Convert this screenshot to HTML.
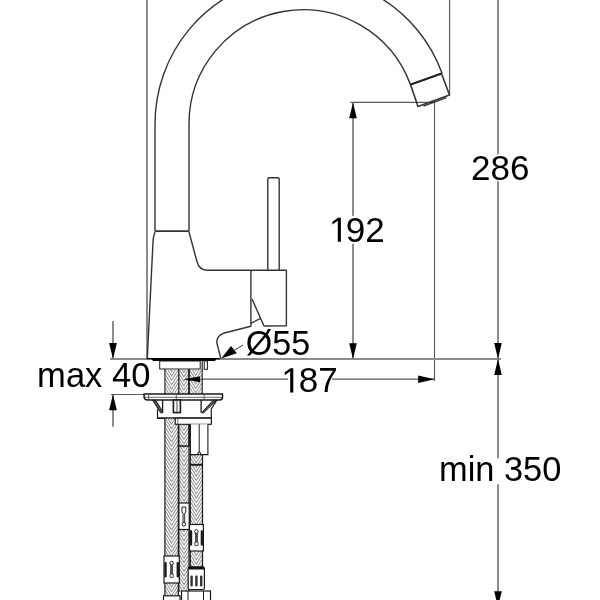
<!DOCTYPE html>
<html><head><meta charset="utf-8">
<style>
html,body{margin:0;padding:0;background:#fff;width:600px;height:600px;overflow:hidden}
svg{display:block;will-change:transform}
text{font-family:"Liberation Sans",sans-serif;fill:#000}
</style></head><body>
<svg width="600" height="600" viewBox="0 0 600 600">
<rect width="600" height="600" fill="#fff"/>
<line x1="147.0" y1="0" x2="147.0" y2="358" stroke="#8c8c8c" stroke-width="2" fill="none"/>
<line x1="449.6" y1="0" x2="449.6" y2="95" stroke="#5a5a5a" stroke-width="1.15" fill="none"/>
<line x1="498.0" y1="0" x2="498.0" y2="600" stroke="#8c8c8c" stroke-width="2" fill="none"/>
<line x1="350.4" y1="102.4" x2="434.5" y2="102.4" stroke="#5a5a5a" stroke-width="1.15" fill="none"/>
<line x1="353.0" y1="102.5" x2="353.0" y2="359" stroke="#8c8c8c" stroke-width="2" fill="none"/>
<line x1="434.5" y1="101" x2="434.5" y2="381" stroke="#5a5a5a" stroke-width="1.15" fill="none"/>
<line x1="185" y1="379.2" x2="434.4" y2="379.2" stroke="#5a5a5a" stroke-width="1.3" fill="none"/>
<line x1="113.0" y1="321" x2="113.0" y2="359" stroke="#8c8c8c" stroke-width="2" fill="none"/>
<line x1="113.0" y1="394.5" x2="113.0" y2="426.7" stroke="#8c8c8c" stroke-width="2" fill="none"/>
<line x1="111" y1="394.5" x2="145" y2="394.5" stroke="#5a5a5a" stroke-width="1.15" fill="none"/>
<line x1="110" y1="359.0" x2="501" y2="359.0" stroke="#8c8c8c" stroke-width="2" fill="none"/>
<g fill="#fff">
<rect x="470" y="154.3" width="62" height="27"/>
<rect x="328" y="215.8" width="58" height="28"/>
<rect x="288" y="366" width="44" height="28"/>
<rect x="438" y="458.3" width="127" height="26"/>
<rect x="36" y="360" width="115" height="29"/>
</g>
<g stroke="#333" stroke-width="1.4" fill="none" stroke-linejoin="round">
<path d="M155 231.2 L155 124 A148 148 0 0 1 442.06 73.3"/>
<path d="M189 231.2 L189 124 A114.2 114.2 0 0 1 410.4 84.6"/>
<path d="M441.5 73.5 L449.5 95 L418 106.5 L410.5 84.5 Z" stroke-width="1.6"/>
<path d="M423.5 106.1 L446.5 97.7" stroke-width="1.3"/>
<path d="M441.6 73.5 L410.5 84.6" stroke-width="2" stroke="#222"/>
<line x1="155" y1="231.2" x2="189" y2="231.2" stroke-width="1.8"/>
<path d="M155 232 C153.4 236 153 239 153 242 L147.3 358.5"/>
<path d="M189 232 L196.8 261 C198.5 267.8 201.5 270.2 207 270.2 L286.4 270.2 L286.4 325.8 L264 326 L252 299"/>
<path d="M250.9 270.2 L250.9 326.3 L223.5 333.3 C219 334.8 216.6 338 216.9 343 L220.8 358.3"/>
<path d="M250.8 323.4 Q255.5 321 260.2 318.7"/>
<path d="M267.8 270.2 L267.8 179 Q267.8 177.8 269 177.8 L278 177.8 Q279.2 177.8 279.2 179 L279.2 270.2"/>
</g>
<line x1="147" y1="358.7" x2="220" y2="358.7" stroke="#000" stroke-width="1.3"/>
<path d="M151.5 359 L216.5 359 L215 361 L153 361Z" fill="#000"/>
<rect x="159.7" y="361" width="40.5" height="8" fill="#fff" stroke="#1a1a1a" stroke-width="1"/>
<rect x="204.2" y="361" width="3.2" height="8.3" fill="#fff" stroke="#1a1a1a" stroke-width="1"/>
<clipPath id="c36"><rect x="164.90" y="369.00" width="13.40" height="24.50"/></clipPath>
<path clip-path="url(#c36)" d="M164.90 352.00 L171.60 362.72 L178.30 352.00 M164.90 356.40 L171.60 367.12 L178.30 356.40 M164.90 360.80 L171.60 371.52 L178.30 360.80 M164.90 365.20 L171.60 375.92 L178.30 365.20 M164.90 369.60 L171.60 380.32 L178.30 369.60 M164.90 374.00 L171.60 384.72 L178.30 374.00 M164.90 378.40 L171.60 389.12 L178.30 378.40 M164.90 382.80 L171.60 393.52 L178.30 382.80 M164.90 387.20 L171.60 397.92 L178.30 387.20 M164.90 391.60 L171.60 402.32 L178.30 391.60 M164.90 396.00 L171.60 406.72 L178.30 396.00 M164.90 400.40 L171.60 411.12 L178.30 400.40" stroke="#999" stroke-width="1.10" fill="none"/>
<clipPath id="c38"><rect x="179.30" y="369.00" width="9.10" height="24.50"/></clipPath>
<path clip-path="url(#c38)" d="M179.30 356.40 L183.85 363.68 L188.40 356.40 M179.30 360.80 L183.85 368.08 L188.40 360.80 M179.30 365.20 L183.85 372.48 L188.40 365.20 M179.30 369.60 L183.85 376.88 L188.40 369.60 M179.30 374.00 L183.85 381.28 L188.40 374.00 M179.30 378.40 L183.85 385.68 L188.40 378.40 M179.30 382.80 L183.85 390.08 L188.40 382.80 M179.30 387.20 L183.85 394.48 L188.40 387.20 M179.30 391.60 L183.85 398.88 L188.40 391.60 M179.30 396.00 L183.85 403.28 L188.40 396.00 M179.30 400.40 L183.85 407.68 L188.40 400.40" stroke="#999" stroke-width="1.10" fill="none"/>
<clipPath id="c40"><rect x="189.50" y="369.00" width="12.50" height="24.50"/></clipPath>
<path clip-path="url(#c40)" d="M189.50 352.00 L195.75 362.00 L202.00 352.00 M189.50 356.40 L195.75 366.40 L202.00 356.40 M189.50 360.80 L195.75 370.80 L202.00 360.80 M189.50 365.20 L195.75 375.20 L202.00 365.20 M189.50 369.60 L195.75 379.60 L202.00 369.60 M189.50 374.00 L195.75 384.00 L202.00 374.00 M189.50 378.40 L195.75 388.40 L202.00 378.40 M189.50 382.80 L195.75 392.80 L202.00 382.80 M189.50 387.20 L195.75 397.20 L202.00 387.20 M189.50 391.60 L195.75 401.60 L202.00 391.60 M189.50 396.00 L195.75 406.00 L202.00 396.00 M189.50 400.40 L195.75 410.40 L202.00 400.40" stroke="#999" stroke-width="1.10" fill="none"/>
<g stroke="#1a1a1a" fill="none">
<line x1="164.9" y1="369" x2="164.9" y2="394" stroke-width="1.1"/>
<line x1="178.8" y1="369" x2="178.8" y2="394" stroke-width="1.3"/>
<line x1="189" y1="369" x2="189" y2="394" stroke-width="1.8"/>
<line x1="202.2" y1="361" x2="202.2" y2="394" stroke-width="1.1"/>
</g>
<path d="M144.1 394 L222.5 394 L222.5 397.5 Q222.5 400 219.5 400 L148 400 Q144.1 400 144.1 397 Z" fill="#fff" stroke="#1a1a1a" stroke-width="1.5"/>
<g stroke="#444" stroke-width="0.8" fill="none">
<line x1="145" y1="397.3" x2="222" y2="397.3"/>
<line x1="148.6" y1="394" x2="148.6" y2="400"/>
<line x1="176.3" y1="394" x2="176.3" y2="400"/>
<line x1="204.1" y1="394" x2="204.1" y2="400"/>
</g>
<g stroke="#1a1a1a" fill="none">
<path d="M152.6 400.2 L155.6 400.2 L162.6 411.5 L162.6 412.8 L160.6 412.8 Z" fill="#555" stroke-width="1"/>
<line x1="162.6" y1="400" x2="162.6" y2="412.7" stroke-width="1.3"/>
<rect x="173.4" y="400" width="7" height="12.6" stroke-width="1.6" fill="#fff"/>
<line x1="177" y1="401" x2="177" y2="412" stroke-width="0.8"/>
<line x1="201.1" y1="400" x2="201.1" y2="412.7" stroke-width="1.3"/>
<path d="M201.6 412.8 L203.6 412.8 L216.5 400.2 L213.2 400.2 Z" fill="#555" stroke-width="1"/>
<path d="M217 400 L211.3 409 L211.3 424.2" stroke-width="1.2"/>
<line x1="157.5" y1="409.3" x2="157.5" y2="418.6" stroke-width="1.2"/>
<line x1="157" y1="418.2" x2="211.8" y2="418.2" stroke-width="1.8"/>
</g>
<clipPath id="c66"><rect x="164.90" y="418.00" width="13.30" height="138.00"/></clipPath>
<path clip-path="url(#c66)" d="M164.90 400.40 L171.55 411.04 L178.20 400.40 M164.90 404.80 L171.55 415.44 L178.20 404.80 M164.90 409.20 L171.55 419.84 L178.20 409.20 M164.90 413.60 L171.55 424.24 L178.20 413.60 M164.90 418.00 L171.55 428.64 L178.20 418.00 M164.90 422.40 L171.55 433.04 L178.20 422.40 M164.90 426.80 L171.55 437.44 L178.20 426.80 M164.90 431.20 L171.55 441.84 L178.20 431.20 M164.90 435.60 L171.55 446.24 L178.20 435.60 M164.90 440.00 L171.55 450.64 L178.20 440.00 M164.90 444.40 L171.55 455.04 L178.20 444.40 M164.90 448.80 L171.55 459.44 L178.20 448.80 M164.90 453.20 L171.55 463.84 L178.20 453.20 M164.90 457.60 L171.55 468.24 L178.20 457.60 M164.90 462.00 L171.55 472.64 L178.20 462.00 M164.90 466.40 L171.55 477.04 L178.20 466.40 M164.90 470.80 L171.55 481.44 L178.20 470.80 M164.90 475.20 L171.55 485.84 L178.20 475.20 M164.90 479.60 L171.55 490.24 L178.20 479.60 M164.90 484.00 L171.55 494.64 L178.20 484.00 M164.90 488.40 L171.55 499.04 L178.20 488.40 M164.90 492.80 L171.55 503.44 L178.20 492.80 M164.90 497.20 L171.55 507.84 L178.20 497.20 M164.90 501.60 L171.55 512.24 L178.20 501.60 M164.90 506.00 L171.55 516.64 L178.20 506.00 M164.90 510.40 L171.55 521.04 L178.20 510.40 M164.90 514.80 L171.55 525.44 L178.20 514.80 M164.90 519.20 L171.55 529.84 L178.20 519.20 M164.90 523.60 L171.55 534.24 L178.20 523.60 M164.90 528.00 L171.55 538.64 L178.20 528.00 M164.90 532.40 L171.55 543.04 L178.20 532.40 M164.90 536.80 L171.55 547.44 L178.20 536.80 M164.90 541.20 L171.55 551.84 L178.20 541.20 M164.90 545.60 L171.55 556.24 L178.20 545.60 M164.90 550.00 L171.55 560.64 L178.20 550.00 M164.90 554.40 L171.55 565.04 L178.20 554.40 M164.90 558.80 L171.55 569.44 L178.20 558.80 M164.90 563.20 L171.55 573.84 L178.20 563.20" stroke="#999" stroke-width="1.10" fill="none"/>
<clipPath id="c68"><rect x="164.90" y="583.00" width="13.30" height="13.00"/></clipPath>
<path clip-path="url(#c68)" d="M164.90 567.60 L171.55 578.24 L178.20 567.60 M164.90 572.00 L171.55 582.64 L178.20 572.00 M164.90 576.40 L171.55 587.04 L178.20 576.40 M164.90 580.80 L171.55 591.44 L178.20 580.80 M164.90 585.20 L171.55 595.84 L178.20 585.20 M164.90 589.60 L171.55 600.24 L178.20 589.60 M164.90 594.00 L171.55 604.64 L178.20 594.00 M164.90 598.40 L171.55 609.04 L178.20 598.40 M164.90 602.80 L171.55 613.44 L178.20 602.80" stroke="#999" stroke-width="1.10" fill="none"/>
<clipPath id="c70"><rect x="178.90" y="424.30" width="10.10" height="21.70"/></clipPath>
<path clip-path="url(#c70)" d="M178.90 409.20 L183.95 417.28 L189.00 409.20 M178.90 413.60 L183.95 421.68 L189.00 413.60 M178.90 418.00 L183.95 426.08 L189.00 418.00 M178.90 422.40 L183.95 430.48 L189.00 422.40 M178.90 426.80 L183.95 434.88 L189.00 426.80 M178.90 431.20 L183.95 439.28 L189.00 431.20 M178.90 435.60 L183.95 443.68 L189.00 435.60 M178.90 440.00 L183.95 448.08 L189.00 440.00 M178.90 444.40 L183.95 452.48 L189.00 444.40 M178.90 448.80 L183.95 456.88 L189.00 448.80 M178.90 453.20 L183.95 461.28 L189.00 453.20" stroke="#999" stroke-width="1.10" fill="none"/>
<clipPath id="c72"><rect x="178.90" y="446.00" width="10.30" height="57.00"/></clipPath>
<path clip-path="url(#c72)" d="M178.90 431.20 L184.05 439.44 L189.20 431.20 M178.90 435.60 L184.05 443.84 L189.20 435.60 M178.90 440.00 L184.05 448.24 L189.20 440.00 M178.90 444.40 L184.05 452.64 L189.20 444.40 M178.90 448.80 L184.05 457.04 L189.20 448.80 M178.90 453.20 L184.05 461.44 L189.20 453.20 M178.90 457.60 L184.05 465.84 L189.20 457.60 M178.90 462.00 L184.05 470.24 L189.20 462.00 M178.90 466.40 L184.05 474.64 L189.20 466.40 M178.90 470.80 L184.05 479.04 L189.20 470.80 M178.90 475.20 L184.05 483.44 L189.20 475.20 M178.90 479.60 L184.05 487.84 L189.20 479.60 M178.90 484.00 L184.05 492.24 L189.20 484.00 M178.90 488.40 L184.05 496.64 L189.20 488.40 M178.90 492.80 L184.05 501.04 L189.20 492.80 M178.90 497.20 L184.05 505.44 L189.20 497.20 M178.90 501.60 L184.05 509.84 L189.20 501.60 M178.90 506.00 L184.05 514.24 L189.20 506.00 M178.90 510.40 L184.05 518.64 L189.20 510.40" stroke="#999" stroke-width="1.10" fill="none"/>
<clipPath id="c74"><rect x="178.90" y="529.50" width="10.30" height="62.50"/></clipPath>
<path clip-path="url(#c74)" d="M178.90 514.80 L184.05 523.04 L189.20 514.80 M178.90 519.20 L184.05 527.44 L189.20 519.20 M178.90 523.60 L184.05 531.84 L189.20 523.60 M178.90 528.00 L184.05 536.24 L189.20 528.00 M178.90 532.40 L184.05 540.64 L189.20 532.40 M178.90 536.80 L184.05 545.04 L189.20 536.80 M178.90 541.20 L184.05 549.44 L189.20 541.20 M178.90 545.60 L184.05 553.84 L189.20 545.60 M178.90 550.00 L184.05 558.24 L189.20 550.00 M178.90 554.40 L184.05 562.64 L189.20 554.40 M178.90 558.80 L184.05 567.04 L189.20 558.80 M178.90 563.20 L184.05 571.44 L189.20 563.20 M178.90 567.60 L184.05 575.84 L189.20 567.60 M178.90 572.00 L184.05 580.24 L189.20 572.00 M178.90 576.40 L184.05 584.64 L189.20 576.40 M178.90 580.80 L184.05 589.04 L189.20 580.80 M178.90 585.20 L184.05 593.44 L189.20 585.20 M178.90 589.60 L184.05 597.84 L189.20 589.60 M178.90 594.00 L184.05 602.24 L189.20 594.00 M178.90 598.40 L184.05 606.64 L189.20 598.40" stroke="#999" stroke-width="1.10" fill="none"/>
<clipPath id="c76"><rect x="190.20" y="454.60" width="12.00" height="9.40"/></clipPath>
<path clip-path="url(#c76)" d="M190.20 440.00 L196.20 449.60 L202.20 440.00 M190.20 444.40 L196.20 454.00 L202.20 444.40 M190.20 448.80 L196.20 458.40 L202.20 448.80 M190.20 453.20 L196.20 462.80 L202.20 453.20 M190.20 457.60 L196.20 467.20 L202.20 457.60 M190.20 462.00 L196.20 471.60 L202.20 462.00 M190.20 466.40 L196.20 476.00 L202.20 466.40 M190.20 470.80 L196.20 480.40 L202.20 470.80" stroke="#999" stroke-width="1.10" fill="none"/>
<clipPath id="c78"><rect x="190.20" y="465.50" width="12.20" height="59.00"/></clipPath>
<path clip-path="url(#c78)" d="M190.20 448.80 L196.30 458.56 L202.40 448.80 M190.20 453.20 L196.30 462.96 L202.40 453.20 M190.20 457.60 L196.30 467.36 L202.40 457.60 M190.20 462.00 L196.30 471.76 L202.40 462.00 M190.20 466.40 L196.30 476.16 L202.40 466.40 M190.20 470.80 L196.30 480.56 L202.40 470.80 M190.20 475.20 L196.30 484.96 L202.40 475.20 M190.20 479.60 L196.30 489.36 L202.40 479.60 M190.20 484.00 L196.30 493.76 L202.40 484.00 M190.20 488.40 L196.30 498.16 L202.40 488.40 M190.20 492.80 L196.30 502.56 L202.40 492.80 M190.20 497.20 L196.30 506.96 L202.40 497.20 M190.20 501.60 L196.30 511.36 L202.40 501.60 M190.20 506.00 L196.30 515.76 L202.40 506.00 M190.20 510.40 L196.30 520.16 L202.40 510.40 M190.20 514.80 L196.30 524.56 L202.40 514.80 M190.20 519.20 L196.30 528.96 L202.40 519.20 M190.20 523.60 L196.30 533.36 L202.40 523.60 M190.20 528.00 L196.30 537.76 L202.40 528.00 M190.20 532.40 L196.30 542.16 L202.40 532.40" stroke="#999" stroke-width="1.10" fill="none"/>
<clipPath id="c80"><rect x="190.20" y="551.00" width="12.20" height="16.00"/></clipPath>
<path clip-path="url(#c80)" d="M190.20 536.80 L196.30 546.56 L202.40 536.80 M190.20 541.20 L196.30 550.96 L202.40 541.20 M190.20 545.60 L196.30 555.36 L202.40 545.60 M190.20 550.00 L196.30 559.76 L202.40 550.00 M190.20 554.40 L196.30 564.16 L202.40 554.40 M190.20 558.80 L196.30 568.56 L202.40 558.80 M190.20 563.20 L196.30 572.96 L202.40 563.20 M190.20 567.60 L196.30 577.36 L202.40 567.60 M190.20 572.00 L196.30 581.76 L202.40 572.00" stroke="#999" stroke-width="1.10" fill="none"/>
<g stroke="#1a1a1a" fill="none">
<line x1="164.9" y1="418" x2="164.9" y2="596" stroke-width="1.2"/>
<line x1="178.3" y1="418" x2="178.3" y2="596" stroke-width="1.2"/>
<line x1="178.9" y1="424.3" x2="178.9" y2="592" stroke-width="1.1"/>
<line x1="189.1" y1="424.3" x2="189.1" y2="592" stroke-width="1.3"/>
<line x1="189.4" y1="424.3" x2="189.4" y2="446" stroke-width="2"/>
<line x1="178.9" y1="446" x2="189.4" y2="446" stroke-width="1.5"/>
<line x1="190.3" y1="454.6" x2="190.3" y2="567" stroke-width="1.2"/>
<line x1="202.5" y1="454.6" x2="202.5" y2="567" stroke-width="1.2"/>
<line x1="190" y1="464.8" x2="202.8" y2="464.8" stroke-width="2"/>
</g>
<rect x="175.3" y="418.2" width="36" height="6.1" fill="#fff" stroke="#1a1a1a" stroke-width="1.1"/>
<line x1="177.8" y1="418.5" x2="177.8" y2="424" stroke="#444" stroke-width="0.7"/>
<path d="M190.4 424.3 L190.4 454.6 L197.6 454.6 Q198 452 199.2 452 Q200.4 452 200.8 454.6 L207.9 454.6 L207.9 424.3" fill="#fff" stroke="#1a1a1a" stroke-width="1.1"/>
<line x1="199.2" y1="424.3" x2="199.2" y2="452" stroke="#1a1a1a" stroke-width="1"/>
<line x1="190" y1="454.6" x2="203" y2="454.6" stroke="#1a1a1a" stroke-width="1.1"/>
<rect x="178.9" y="503" width="10.3" height="26.5" fill="#fff" stroke="#1a1a1a" stroke-width="1.2"/>
<path d="M182 507 L185.8 507 L185.8 512 L184.7 513.2 L184.7 522.4 L183.1 522.4 L183.1 513.2 L182 512Z" fill="#fff" stroke="#1a1a1a" stroke-width="1"/>
<line x1="183.9" y1="513" x2="183.9" y2="522" stroke="#888" stroke-width="0.8"/>
<circle cx="183.9" cy="524.3" r="1.8" fill="#fff" stroke="#1a1a1a" stroke-width="1"/>
<rect x="189.50" y="524.50" width="13.90" height="26.50" fill="#fff" stroke="#1a1a1a" stroke-width="1.2"/>
<rect x="189.80" y="530.33" width="2.4" height="15.37" rx="1.1" fill="#1a1a1a"/>
<rect x="200.70" y="530.33" width="2.4" height="15.37" rx="1.1" fill="#1a1a1a"/>
<rect x="195.35" y="532.73" width="2.2" height="9.87" fill="#555" stroke="#222" stroke-width="0.6"/>
<circle cx="196.45" cy="531.53" r="1.8" fill="#fff" stroke="#222" stroke-width="1"/>
<rect x="194.85" y="542.10" width="3.2" height="3.4" rx="0.5" fill="#fff" stroke="#222" stroke-width="0.9"/>
<rect x="164.00" y="556.00" width="15.30" height="27.00" fill="#fff" stroke="#1a1a1a" stroke-width="1.2"/>
<rect x="164.30" y="561.94" width="2.4" height="15.66" rx="1.1" fill="#1a1a1a"/>
<rect x="176.60" y="561.94" width="2.4" height="15.66" rx="1.1" fill="#1a1a1a"/>
<rect x="170.55" y="564.34" width="2.2" height="10.16" fill="#555" stroke="#222" stroke-width="0.6"/>
<circle cx="171.65" cy="563.14" r="1.8" fill="#fff" stroke="#222" stroke-width="1"/>
<rect x="170.05" y="574.00" width="3.2" height="3.4" rx="0.5" fill="#fff" stroke="#222" stroke-width="0.9"/>
<rect x="188.2" y="567" width="16.2" height="22.5" rx="1.5" fill="#fff" stroke="#1a1a1a" stroke-width="1.2"/>
<rect x="188.6" y="566.5" width="15.4" height="3" fill="#111"/>
<rect x="190.4" y="575.5" width="2.4" height="11" rx="1" fill="#333"/>
<rect x="195.2" y="575.5" width="2.4" height="11" rx="1" fill="#333"/>
<rect x="200.0" y="575.5" width="2.4" height="11" rx="1" fill="#333"/>
<rect x="163.5" y="595.8" width="16.5" height="8" fill="#fff" stroke="#1a1a1a" stroke-width="1.2"/>
<rect x="181.5" y="591" width="29" height="12" fill="#fff" stroke="#1a1a1a" stroke-width="1.2"/>
<line x1="188" y1="591" x2="188" y2="600" stroke="#1a1a1a" stroke-width="1"/>
<line x1="203.5" y1="591" x2="203.5" y2="600" stroke="#1a1a1a" stroke-width="1"/>
<g fill="#000">
<path d="M353 102.4 L349.2 118.3 L356.8 118.3Z"/>
<path d="M353 359 L349.2 343.2 L356.8 343.2Z"/>
<path d="M498 359 L494.2 343 L501.8 343Z"/>
<path d="M498 359 L494.2 375 L501.8 375Z"/>
<path d="M498 607 L494.2 591.2 L501.8 591.2Z"/>
<path d="M434.5 379.2 L418.2 375.5 L418.2 382.9Z"/>
<path d="M183.5 379.2 L200 376.2 L200 382.2Z"/>
<path d="M113 358.8 L109.1 343 L116.9 343Z"/>
<path d="M113 394.5 L109.1 410.2 L116.9 410.2Z"/>
<path d="M221.2 358.4 L231 346 L236.8 353.3Z"/>
</g>
<line x1="234" y1="350.5" x2="243" y2="345" stroke="#333" stroke-width="1"/>
<g font-size="35">
<text transform="translate(471.04 180.20) scale(1.000 1)" x="0" y="0">286</text>
<path d="M337.80 241.80 L337.80 220.66 L332.37 224.54 L332.37 221.63 L338.06 217.72 L340.89 217.72 L340.89 241.80Z" fill="#000"/>
<text x="345.87" y="241.8">92</text>
<text transform="translate(245.72 354.90) scale(0.975 1)" x="0" y="0">Ø55</text>
<path d="M290.20 392.40 L290.20 371.26 L284.77 375.14 L284.77 372.23 L290.46 368.32 L293.29 368.32 L293.29 392.40Z" fill="#000"/>
<text x="298.87" y="392.4">87</text>
<text transform="translate(37.11 386.60) scale(0.987 1)" x="0" y="0">max 40</text>
<text transform="translate(439.02 480.60) scale(0.982 1)" x="0" y="0">min 350</text>
</g>
</svg>
</body></html>
